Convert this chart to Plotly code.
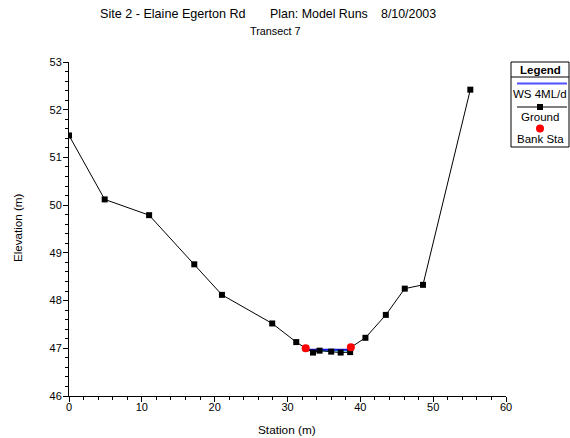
import plotly.graph_objects as go

# Data
ground_x = [0.0, 4.9, 11.0, 17.2, 21.0, 27.9, 31.2, 32.5, 33.5, 34.4, 36.0, 37.3, 38.6, 38.7, 40.7, 43.5, 46.1, 48.6, 55.1]
ground_y = [51.46, 50.12, 49.79, 48.76, 48.12, 47.52, 47.13, 47.0, 46.91, 46.95, 46.93, 46.91, 46.92, 47.02, 47.22, 47.7, 48.25, 48.33, 52.42]
bank_x = [32.5, 38.7]
bank_y = [47.0, 47.02]
ws_x = [32.7, 38.6]
ws_y = [46.97, 46.97]
ws_fill_x = [33.0, 38.4]
ws_fill_y = [46.945, 46.945]

W, H = 570, 438
L, R, T, B = 69, 64, 62, 42
PW, PH = W - L - R, H - T - B

def px(x):
    return (x - L) / PW

def py(y):
    return (H - B - y) / PH

fig = go.Figure()
fig.add_trace(go.Scatter(x=ws_fill_x, y=ws_fill_y, mode="lines",
                         line=dict(color="#00e5ff", width=1), showlegend=False))
fig.add_trace(go.Scatter(x=ws_x, y=ws_y, mode="lines",
                         line=dict(color="#1010e0", width=2), name="WS 4ML/d", showlegend=False))
fig.add_trace(go.Scatter(x=ground_x, y=ground_y, mode="lines+markers",
                         line=dict(color="black", width=1),
                         marker=dict(symbol="square", size=6, color="black"),
                         name="Ground", showlegend=False))
fig.add_trace(go.Scatter(x=bank_x, y=bank_y, mode="markers",
                         marker=dict(symbol="circle", size=8, color="red"),
                         name="Bank Sta", showlegend=False))

font = "Liberation Sans, Arial, sans-serif"
axis_common = dict(showline=True, linecolor="black", linewidth=1, showgrid=False,
                   zeroline=False, ticks="outside", ticklen=5, tickcolor="black",
                   tickfont=dict(size=11, color="black", family=font))
fig.update_xaxes(range=[0, 60], dtick=10, tick0=0, ticklabelstandoff=-4,
                 minor=dict(dtick=2, ticks="outside", ticklen=3, tickcolor="black"),
                 **axis_common)
fig.update_yaxes(range=[46, 53], dtick=1, tick0=46, ticklabelstandoff=-1,
                 minor=dict(dtick=0.2, ticks="outside", ticklen=3, tickcolor="black"),
                 **axis_common)

ann = []
ann.append(dict(text="Site 2 - Elaine Egerton Rd", x=px(98), y=py(14), xanchor="left", yanchor="middle",
                font=dict(size=12.6)))
ann.append(dict(text="Plan: Model Runs", x=px(268), y=py(14), xanchor="left", yanchor="middle",
                font=dict(size=12.4)))
ann.append(dict(text="8/10/2003", x=px(379), y=py(14), xanchor="left", yanchor="middle",
                font=dict(size=12.4)))
ann.append(dict(text="Transect 7", x=px(275), y=py(31), xanchor="center", yanchor="middle",
                font=dict(size=10.8)))
ann.append(dict(text="Elevation (m)", x=px(17), y=py(228), xanchor="center", yanchor="middle",
                textangle=-90, font=dict(size=11.6)))
ann.append(dict(text="Station (m)", x=px(287), y=py(430), xanchor="center", yanchor="middle",
                font=dict(size=11.8)))
# Legend
lx0, lx1, ly0, ly1 = 511, 569, 62, 147
lcx = (lx0 + lx1) / 2
ann.append(dict(text="<b>Legend</b>", x=px(lcx), y=py(69.5), xanchor="center", yanchor="middle",
                font=dict(size=11.5)))
ann.append(dict(text="WS 4ML/d", x=px(lcx), y=py(94), xanchor="center", yanchor="middle",
                font=dict(size=11.5)))
ann.append(dict(text="Ground", x=px(lcx), y=py(117), xanchor="center", yanchor="middle",
                font=dict(size=11.5)))
ann.append(dict(text="Bank Sta", x=px(lcx), y=py(139), xanchor="center", yanchor="middle",
                font=dict(size=11.5)))
for a in ann:
    a.update(xref="paper", yref="paper", showarrow=False)
    a["font"].update(family=font, color="black")

shapes = [
    dict(type="rect", x0=px(lx0), x1=px(lx1), y0=py(ly1), y1=py(ly0),
         line=dict(color="black", width=1)),
    dict(type="line", x0=px(lx0), x1=px(lx1), y0=py(77), y1=py(77),
         line=dict(color="black", width=1)),
    dict(type="line", x0=px(517), x1=px(567), y0=py(83.5), y1=py(83.5),
         line=dict(color="#5050ff", width=2)),
    dict(type="line", x0=px(517), x1=px(567), y0=py(107), y1=py(107),
         line=dict(color="black", width=1)),
    dict(type="rect", x0=px(lcx - 3), x1=px(lcx + 3), y0=py(110), y1=py(104),
         line=dict(width=0), fillcolor="black"),
    dict(type="circle", x0=px(lcx - 4), x1=px(lcx + 4), y0=py(132.5), y1=py(124.5),
         line=dict(width=0), fillcolor="red"),
]
for s in shapes:
    s.update(xref="paper", yref="paper")

fig.update_layout(width=W, height=H, margin=dict(l=L, r=R, t=T, b=B),
                  paper_bgcolor="white", plot_bgcolor="white",
                  annotations=ann, shapes=shapes, showlegend=False,
                  font=dict(family=font, color="black"))
fig.write_html("out.html")
